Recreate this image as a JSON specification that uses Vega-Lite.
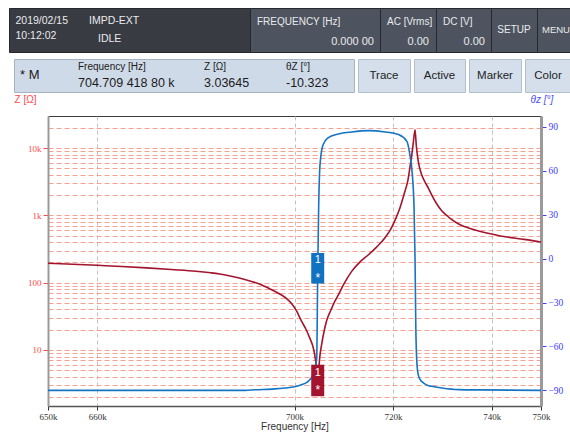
{
  "$schema": "https://vega.github.io/schema/vega-lite/v6.json",
  "background": "white",
  "padding": {"left": 8, "top": 7, "right": 0, "bottom": 0},
  "autosize": {"type": "pad"},
  "config": {"view": {"stroke": null}, "font": "Liberation Sans", "text": {"font": "Liberation Sans"}},
  "datasets": {
    "z": [
      {"f": 650, "z": 194}, {"f": 655, "z": 188}, {"f": 660, "z": 181}, {"f": 665, "z": 174}, {"f": 670, "z": 166},
      {"f": 675, "z": 157}, {"f": 680, "z": 148}, {"f": 683, "z": 140}, {"f": 686, "z": 130}, {"f": 689, "z": 116},
      {"f": 691.3, "z": 104}, {"f": 693, "z": 95}, {"f": 695.3, "z": 79}, {"f": 697, "z": 68}, {"f": 698.4, "z": 58},
      {"f": 699.4, "z": 49}, {"f": 700.5, "z": 37}, {"f": 701.4, "z": 27}, {"f": 702.3, "z": 20.5}, {"f": 703.1, "z": 15},
      {"f": 703.7, "z": 11.5}, {"f": 704.1, "z": 8.5}, {"f": 704.4, "z": 5.8}, {"f": 704.6, "z": 3.8}, {"f": 704.71, "z": 3.04},
      {"f": 704.85, "z": 4.2}, {"f": 705.1, "z": 7.5}, {"f": 705.5, "z": 12}, {"f": 706, "z": 19}, {"f": 706.5, "z": 27},
      {"f": 707.3, "z": 38}, {"f": 708.2, "z": 53}, {"f": 708.9, "z": 66}, {"f": 710, "z": 95}, {"f": 711.6, "z": 147},
      {"f": 713.2, "z": 200}, {"f": 715, "z": 260}, {"f": 716.7, "z": 340}, {"f": 718.4, "z": 470}, {"f": 719.5, "z": 620},
      {"f": 720.4, "z": 850}, {"f": 721.4, "z": 1300}, {"f": 722.4, "z": 2275}, {"f": 723, "z": 3300}, {"f": 723.4, "z": 5050},
      {"f": 723.8, "z": 8000}, {"f": 724.1, "z": 12000}, {"f": 724.45, "z": 18700}, {"f": 724.7, "z": 11000}, {"f": 725.1, "z": 6400},
      {"f": 725.8, "z": 4000}, {"f": 726.5, "z": 3100}, {"f": 727.2, "z": 2500}, {"f": 727.8, "z": 2024}, {"f": 728.8, "z": 1500},
      {"f": 729.9, "z": 1159}, {"f": 731, "z": 980}, {"f": 731.9, "z": 861}, {"f": 733.5, "z": 730}, {"f": 735.3, "z": 648},
      {"f": 737.5, "z": 580}, {"f": 740, "z": 528}, {"f": 742.5, "z": 485}, {"f": 745.5, "z": 450}, {"f": 748, "z": 425},
      {"f": 750, "z": 402}
    ],
    "theta": [
      {"f": 650, "theta": -90}, {"f": 680, "theta": -90}, {"f": 690, "theta": -90}, {"f": 692, "theta": -89.6},
      {"f": 696, "theta": -89}, {"f": 698, "theta": -88.4}, {"f": 700, "theta": -87.6}, {"f": 701.4, "theta": -86.1},
      {"f": 702.5, "theta": -84.5}, {"f": 703.1, "theta": -82.7}, {"f": 703.8, "theta": -79.3}, {"f": 704.2, "theta": -75},
      {"f": 704.5, "theta": -68}, {"f": 704.71, "theta": -10.3}, {"f": 704.9, "theta": 35}, {"f": 705.1, "theta": 60},
      {"f": 705.3, "theta": 68.7}, {"f": 705.8, "theta": 77.9}, {"f": 706.8, "theta": 82.5}, {"f": 708.9, "theta": 85.2},
      {"f": 711.6, "theta": 86.6}, {"f": 715, "theta": 87.5}, {"f": 718.4, "theta": 86.6}, {"f": 721.1, "theta": 84.8},
      {"f": 722.8, "theta": 80.2}, {"f": 723.4, "theta": 71.1}, {"f": 723.9, "theta": 57.4}, {"f": 724.25, "theta": 34.7},
      {"f": 724.45, "theta": 0}, {"f": 724.6, "theta": -45}, {"f": 724.8, "theta": -69.9}, {"f": 725.1, "theta": -79.3},
      {"f": 725.5, "theta": -82.7}, {"f": 726.2, "theta": -85}, {"f": 727.2, "theta": -86.8}, {"f": 727.8, "theta": -87.2},
      {"f": 729.9, "theta": -88.4}, {"f": 733.3, "theta": -89.5}, {"f": 738, "theta": -89.7}, {"f": 750, "theta": -90}
    ],
    "marker": [{"f": 704.709, "z": 3.03645, "theta": -10.323, "id": "1"}]
  },
  "spacing": 0,
  "bounds": "full",
  "vconcat": [
    {
      "spacing": 0,
      "bounds": "flush",
      "hconcat": [
        {
          "width": 241, "height": 44,
          "view": {"fill": "#383b42", "stroke": "#26282d"},
          "data": {"values": [
            {"t": "2019/02/15", "c": 0, "r": 0},
            {"t": "10:12:02", "c": 0, "r": 1},
            {"t": "IMPD-EXT", "c": 1, "r": 0},
            {"t": "IDLE", "c": 2, "r": 2}
          ]},
          "mark": {"type": "text", "align": "left", "baseline": "middle", "fontSize": 10.5, "color": "#e9eaee"},
          "encoding": {
            "x": {"field": "c", "type": "quantitative", "scale": {"domain": [0, 1, 2], "range": [6.5, 80, 89], "nice": false}, "axis": null},
            "y": {"field": "r", "type": "quantitative", "scale": {"domain": [0, 1, 2], "range": [12.5, 27.5, 31], "nice": false}, "axis": null},
            "text": {"field": "t"}
          }
        },
        {
          "width": 130, "height": 44,
          "view": {"fill": "#4e545f", "stroke": "#26282d"},
          "data": {"values": [{"t": "FREQUENCY [Hz]", "c": 0, "r": 0}, {"t": "0.000 00", "c": 1, "r": 1}]},
          "encoding": {
            "x": {"field": "c", "type": "quantitative", "scale": {"domain": [0, 1], "range": [7, 124], "nice": false}, "axis": null},
            "y": {"field": "r", "type": "quantitative", "scale": {"domain": [0, 1], "range": [14, 34], "nice": false}, "axis": null},
            "text": {"field": "t"}
          },
          "layer": [
            {"transform": [{"filter": "datum.c == 0"}], "mark": {"type": "text", "align": "left", "baseline": "middle", "fontSize": 10, "color": "#e9eaee"}},
            {"transform": [{"filter": "datum.c == 1"}], "mark": {"type": "text", "align": "right", "baseline": "middle", "fontSize": 11, "color": "#e9eaee"}}
          ]
        },
        {
          "width": 56, "height": 44,
          "view": {"fill": "#4e545f", "stroke": "#26282d"},
          "data": {"values": [{"t": "AC [Vrms]", "c": 0, "r": 0}, {"t": "0.00", "c": 1, "r": 1}]},
          "encoding": {
            "x": {"field": "c", "type": "quantitative", "scale": {"domain": [0, 1], "range": [7, 49], "nice": false}, "axis": null},
            "y": {"field": "r", "type": "quantitative", "scale": {"domain": [0, 1], "range": [14, 34], "nice": false}, "axis": null},
            "text": {"field": "t"}
          },
          "layer": [
            {"transform": [{"filter": "datum.c == 0"}], "mark": {"type": "text", "align": "left", "baseline": "middle", "fontSize": 10, "color": "#e9eaee"}},
            {"transform": [{"filter": "datum.c == 1"}], "mark": {"type": "text", "align": "right", "baseline": "middle", "fontSize": 11, "color": "#e9eaee"}}
          ]
        },
        {
          "width": 55, "height": 44,
          "view": {"fill": "#4e545f", "stroke": "#26282d"},
          "data": {"values": [{"t": "DC [V]", "c": 0, "r": 0}, {"t": "0.00", "c": 1, "r": 1}]},
          "encoding": {
            "x": {"field": "c", "type": "quantitative", "scale": {"domain": [0, 1], "range": [7, 49], "nice": false}, "axis": null},
            "y": {"field": "r", "type": "quantitative", "scale": {"domain": [0, 1], "range": [14, 34], "nice": false}, "axis": null},
            "text": {"field": "t"}
          },
          "layer": [
            {"transform": [{"filter": "datum.c == 0"}], "mark": {"type": "text", "align": "left", "baseline": "middle", "fontSize": 10, "color": "#e9eaee"}},
            {"transform": [{"filter": "datum.c == 1"}], "mark": {"type": "text", "align": "right", "baseline": "middle", "fontSize": 11, "color": "#e9eaee"}}
          ]
        },
        {
          "width": 46, "height": 44,
          "view": {"fill": "#4e545f", "stroke": "#26282d"},
          "data": {"values": [{"t": "SETUP"}]},
          "mark": {"type": "text", "align": "center", "baseline": "middle", "fontSize": 10, "color": "#e9eaee"},
          "encoding": {"text": {"field": "t"}}
        },
        {
          "width": 34, "height": 44,
          "view": {"fill": "#4e545f", "stroke": "#26282d"},
          "data": {"values": [{"t": "MENU", "c": 0}]},
          "mark": {"type": "text", "align": "left", "baseline": "middle", "fontSize": 9.5, "color": "#e9eaee"},
          "encoding": {
            "x": {"field": "c", "type": "quantitative", "scale": {"domain": [0, 1], "range": [5, 30], "nice": false}, "axis": null},
            "text": {"field": "t"}
          }
        }
      ]
    },
    {"width": 562, "height": 5, "data": {"values": []}, "mark": "text"},
    {
      "spacing": 4,
      "bounds": "flush",
      "hconcat": [
        {"width": 1, "height": 33, "data": {"values": []}, "mark": "text"},
        {
          "width": 340, "height": 33,
          "view": {"fill": "#cfdae8", "stroke": "#a7b4c4"},
          "data": {"values": [
            {"t": "* M", "k": "m", "c": 0},
            {"t": "Frequency [Hz]", "k": "h", "c": 1},
            {"t": "704.709 418 80 k", "k": "v", "c": 1},
            {"t": "Z [Ω]", "k": "h", "c": 2},
            {"t": "3.03645", "k": "v", "c": 2},
            {"t": "θZ [°]", "k": "h", "c": 3},
            {"t": "-10.323", "k": "v", "c": 3}
          ]},
          "encoding": {
            "x": {"field": "c", "type": "quantitative", "scale": {"domain": [0, 1, 2, 3], "range": [6, 64, 190, 272], "nice": false}, "axis": null},
            "y": {"field": "k", "type": "nominal", "scale": {"type": "point", "domain": ["h", "m", "v"], "range": [8, 24], "padding": 0}, "axis": null},
            "text": {"field": "t"}
          },
          "layer": [
            {"transform": [{"filter": "datum.k == 'm'"}], "mark": {"type": "text", "align": "left", "baseline": "middle", "fontSize": 13, "color": "#1b1b1b"}},
            {"transform": [{"filter": "datum.k == 'h'"}], "mark": {"type": "text", "align": "left", "baseline": "middle", "fontSize": 10, "color": "#1b1b1b"}},
            {"transform": [{"filter": "datum.k == 'v'"}], "mark": {"type": "text", "align": "left", "baseline": "middle", "fontSize": 12.5, "color": "#1b1b1b"}}
          ]
        },
        {
          "width": 52, "height": 33,
          "view": {"fill": "#d4dfeb", "stroke": "#b3bfcd"},
          "data": {"values": [{"t": "Trace"}]},
          "mark": {"type": "text", "align": "center", "baseline": "middle", "fontSize": 11.5, "color": "#222222"},
          "encoding": {"text": {"field": "t"}}
        },
        {
          "width": 51, "height": 33,
          "view": {"fill": "#d4dfeb", "stroke": "#b3bfcd"},
          "data": {"values": [{"t": "Active"}]},
          "mark": {"type": "text", "align": "center", "baseline": "middle", "fontSize": 11.5, "color": "#222222"},
          "encoding": {"text": {"field": "t"}}
        },
        {
          "width": 52, "height": 33,
          "view": {"fill": "#d4dfeb", "stroke": "#b3bfcd"},
          "data": {"values": [{"t": "Marker"}]},
          "mark": {"type": "text", "align": "center", "baseline": "middle", "fontSize": 11.5, "color": "#222222"},
          "encoding": {"text": {"field": "t"}}
        },
        {
          "width": 46, "height": 33,
          "view": {"fill": "#d4dfeb", "stroke": "#b3bfcd"},
          "data": {"values": [{"t": "Color"}]},
          "mark": {"type": "text", "align": "center", "baseline": "middle", "fontSize": 11.5, "color": "#222222"},
          "encoding": {"text": {"field": "t"}}
        }
      ]
    },
    {
      "spacing": 4,
      "bounds": "flush",
      "hconcat": [
        {"width": 35, "height": 290, "data": {"values": []}, "mark": "text"},
        {
          "width": 493, "height": 290,
          "view": {"stroke": "#3c3c3c", "strokeWidth": 1},
          "encoding": {
            "x": {
              "field": "f", "type": "quantitative",
              "scale": {"domain": [650, 750], "nice": false, "zero": false},
              "axis": {
                "values": [650, 660, 700, 720, 740, 750],
                "labelExpr": "datum.value + 'k'",
                "grid": true, "gridColor": "#c2c2c2", "gridDash": [4, 3], "gridWidth": 1,
                "title": "Frequency [Hz]", "titleFontWeight": "normal", "titleFontSize": 10, "titleColor": "#333333", "titlePadding": 0,
                "labelFontSize": 9, "labelColor": "#333333", "labelFont": "Liberation Sans Narrow", "labelFlush": false, "labelOverlap": false,
                "tickColor": "#333333", "tickSize": 4, "labelPadding": 2,
                "domainColor": "#555555", "domainWidth": 1.5
              }
            }
          },
          "layer": [
            {
              "data": {"name": "z"},
              "mark": {"type": "line", "color": "#a3152f", "strokeWidth": 1.6, "interpolate": "monotone"},
              "encoding": {
                "y": {
                  "field": "z", "type": "quantitative",
                  "scale": {"type": "log", "domain": [1.473, 29880], "nice": false},
                  "axis": {
                    "orient": "left",
                    "values": [2, 3, 4, 5, 6, 7, 8, 9, 10, 20, 30, 40, 50, 60, 70, 80, 90, 100, 200, 300, 400, 500, 600, 700, 800, 900, 1000, 2000, 3000, 4000, 5000, 6000, 7000, 8000, 9000, 10000, 20000],
                    "labelExpr": "datum.value == 10 ? '10' : datum.value == 100 ? '100' : datum.value == 1000 ? '1k' : datum.value == 10000 ? '10k' : ''",
                    "grid": true, "gridColor": "#f5a090", "gridDash": [5, 3], "gridWidth": 1,
                    "tickColor": "#ff4a4a", "tickSize": 5,
                    "tickOpacity": {"condition": {"test": "indexof([10, 100, 1000, 10000], datum.value) >= 0", "value": 1}, "value": 0},
                    "labelColor": "#ff4a4a", "labelFontSize": 9, "labelFont": "Liberation Sans Narrow", "labelPadding": 2, "labelOverlap": false,
                    "domainColor": "#9a9a9a", "domainWidth": 2,
                    "title": "Z [Ω]", "titleColor": "#ff4a4a", "titleFontSize": 10, "titleFontWeight": "normal",
                    "titleAngle": 0, "titleAlign": "left", "titleBaseline": "middle", "titleX": -34, "titleY": -17
                  }
                }
              }
            },
            {
              "data": {"name": "theta"},
              "mark": {"type": "line", "color": "#1574c4", "strokeWidth": 1.6, "interpolate": "monotone"},
              "encoding": {
                "y": {
                  "field": "theta", "type": "quantitative",
                  "scale": {"domain": [-100.7, 97.5], "nice": false, "zero": false},
                  "axis": {
                    "orient": "right",
                    "values": [-90, -60, -30, 0, 30, 60, 90],
                    "grid": false, "tickColor": "#3b3bff", "tickSize": 5,
                    "labelColor": "#3b3bff", "labelFontSize": 9.5, "labelFont": "Liberation Sans Narrow", "labelPadding": 2,
                    "domainColor": "#9a9a9a", "domainWidth": 3,
                    "title": "θz [°]", "titleColor": "#4a4aff", "titleFontSize": 10, "titleFontWeight": "normal", "titleFontStyle": "italic",
                    "titleAngle": 0, "titleAlign": "left", "titleBaseline": "middle", "titleX": -11, "titleY": -17
                  }
                }
              }
            },
            {
              "data": {"name": "marker"},
              "encoding": {
                "y": {"field": "theta", "type": "quantitative", "scale": {"domain": [-100.7, 97.5], "nice": false, "zero": false}, "axis": null}
              },
              "layer": [
                {"mark": {"type": "point", "shape": "M-1,-3.2L1,-3.2L1,1.5L-1,1.5Z", "filled": true, "color": "#1272c2", "opacity": 1, "size": 169, "strokeWidth": 0}},
                {"mark": {"type": "text", "dy": -14, "color": "white", "fontSize": 11, "baseline": "middle"}, "encoding": {"text": {"field": "id"}}},
                {"mark": {"type": "text", "text": "*", "dy": 4, "color": "white", "fontSize": 12, "baseline": "middle"}}
              ]
            },
            {
              "data": {"name": "marker"},
              "encoding": {
                "y": {"field": "z", "type": "quantitative", "scale": {"type": "log", "domain": [1.473, 29880], "nice": false}, "axis": null}
              },
              "layer": [
                {"mark": {"type": "point", "shape": "M-1,-3.1L1,-3.1L1,1.75L-1,1.75Z", "filled": true, "color": "#a5142e", "opacity": 1, "size": 169, "strokeWidth": 0}},
                {"mark": {"type": "text", "dy": -12, "color": "white", "fontSize": 11, "baseline": "middle"}, "encoding": {"text": {"field": "id"}}},
                {"mark": {"type": "text", "text": "*", "dy": 5, "color": "white", "fontSize": 12, "baseline": "middle"}}
              ]
            }
          ],
          "resolve": {"scale": {"y": "independent"}, "axis": {"y": "independent"}}
        }
      ]
    }
  ]
}
